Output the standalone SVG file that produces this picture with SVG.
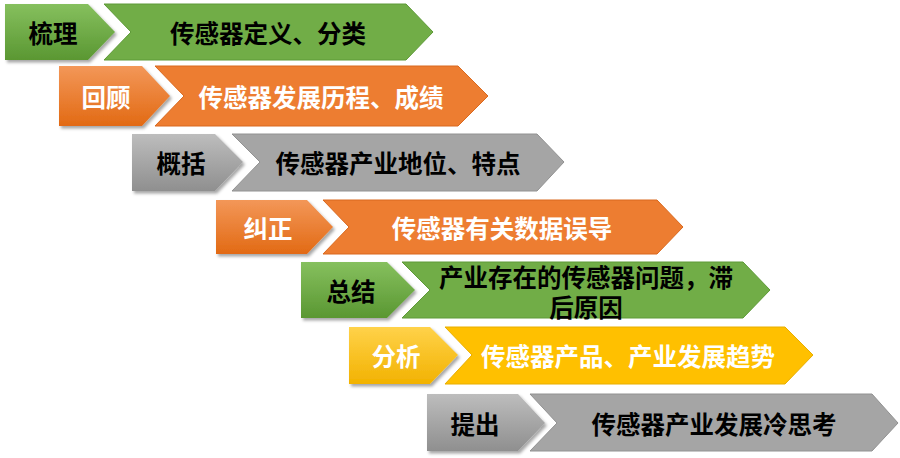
<svg xmlns="http://www.w3.org/2000/svg" width="900" height="458" viewBox="0 0 900 458">
<defs>
<linearGradient id="gG" x1="0" y1="0" x2="0" y2="1"><stop offset="0" stop-color="#86C05E"/><stop offset="1" stop-color="#5A9732"/></linearGradient>
<linearGradient id="gO" x1="0" y1="0" x2="0" y2="1"><stop offset="0" stop-color="#F39758"/><stop offset="1" stop-color="#E26A14"/></linearGradient>
<linearGradient id="gA" x1="0" y1="0" x2="0" y2="1"><stop offset="0" stop-color="#BDBDBD"/><stop offset="1" stop-color="#8F8F8F"/></linearGradient>
<linearGradient id="gY" x1="0" y1="0" x2="0" y2="1"><stop offset="0" stop-color="#FFD24A"/><stop offset="1" stop-color="#F2B200"/></linearGradient>
<filter id="sh" x="-10%" y="-10%" width="130%" height="140%"><feDropShadow dx="2" dy="2.5" stdDeviation="1.5" flood-color="#000" flood-opacity="0.35"/></filter>
</defs>
<style>
text{font-family:"Noto Sans CJK SC","Noto Sans",sans-serif;font-weight:bold;font-size:24.5px;text-anchor:middle;dominant-baseline:central}
.dk{fill:#000}
.wt{fill:#fff}
.cG{fill:#71AD47;stroke:#5E9A38;stroke-width:1}
.cO{fill:#ED7D31;stroke:#D9691F;stroke-width:1}
.cA{fill:#A5A5A5;stroke:#929292;stroke-width:1}
.cY{fill:#FFC000;stroke:#E8AE00;stroke-width:1}
.s{filter:url(#sh)}
</style>
<g id="connectors"></g>
<g id="row1">
<path class="s" fill="url(#gG)" d="M5,4 H88 L115,32 L88,60 H5 Z"/>
<path class="cG" d="M104,4 H406 L433,32 L406,60 H104 L131,32 Z"/>
<text class="dk" x="53" y="32">梳理</text>
<text class="dk" x="268" y="32">传感器定义、分类</text>
</g>
<g id="row2">
<path class="s" fill="url(#gO)" d="M59,66 H142 L170,96 L142,126 H59 Z"/>
<path class="cO" d="M155,66 H458 L488,96 L458,126 H155 L184,96 Z"/>
<text class="wt" x="106" y="96">回顾</text>
<text class="wt" x="321" y="96">传感器发展历程、成绩</text>
</g>
<g id="row3">
<path class="s" fill="url(#gA)" d="M132,134 H215 L243,162 L215,191 H132 Z"/>
<path class="cA" d="M232,134 H537 L564,162 L537,191 H232 L260,162 Z"/>
<text class="dk" x="181" y="162">概括</text>
<text class="dk" x="398" y="162">传感器产业地位、特点</text>
</g>
<g id="row4">
<path class="s" fill="url(#gO)" d="M216,200 H307 L333,227 L307,254 H216 Z"/>
<path class="cO" d="M323,200 H657 L683,227 L657,254 H323 L349,227 Z"/>
<text class="wt" x="268" y="227">纠正</text>
<text class="wt" x="502" y="227">传感器有关数据误导</text>
</g>
<g id="row5">
<path class="s" fill="url(#gG)" d="M301,262 H387 L415,290 L387,318 H301 Z"/>
<path class="cG" d="M402,262 H743 L770,290 L743,318 H402 L430,290 Z"/>
<text class="dk" x="351" y="290">总结</text>
<text class="dk" x="586" y="276"><tspan x="586" y="276">产业存在的传感器问题，滞</tspan><tspan x="586" y="306">后原因</tspan></text>
</g>
<g id="row6">
<path class="s" fill="url(#gY)" d="M349,327 H430 L458,355 L430,384 H349 Z"/>
<path class="cY" d="M445,327 H785 L813,355 L785,384 H445 L472,355 Z"/>
<text class="wt" x="396" y="355">分析</text>
<text class="wt" x="628" y="355">传感器产品、产业发展趋势</text>
</g>
<g id="row7">
<path class="s" fill="url(#gA)" d="M427,394 H518 L545,423 L518,451 H427 Z"/>
<path class="cA" d="M530,394 H872 L898,423 L872,451 H530 L557,423 Z"/>
<text class="dk" x="475" y="423">提出</text>
<text class="dk" x="714" y="423">传感器产业发展冷思考</text>
</g>
</svg>
